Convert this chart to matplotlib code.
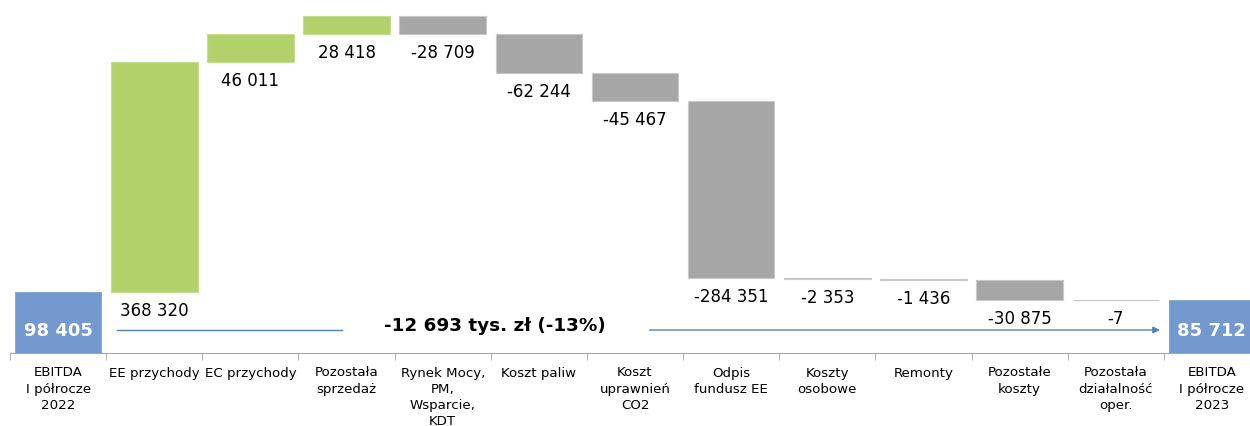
import matplotlib
matplotlib.use("Agg")
import matplotlib.pyplot as plt
import numpy as np

categories = ["EBITDA\nI półrocze\n2022", "EE przychody", "EC przychody", "Pozostała\nsprzedaż",
              "Rynek Mocy,\nPM,\nWsparcie,\nKDT", "Koszt paliw", "Koszt\nuprawnień\nCO2",
              "Odpis\nfundusz EE", "Koszty\nosobowe", "Remonty", "Pozostałe\nkoszty",
              "Pozostała\ndziałalność\noper.", "EBITDA\nI półrocze\n2023"]
start_value = 98405
changes = [368320, 46011, 28418, -28709, -62244, -45467, -284351, -2353, -1436, -30875, -7]
end_value = 85712
summary_text = "-12 693 tys. zł (-13%)"

GREEN = "#B3D16B"
GREY = "#A6A6A6"
BLUE = "#7399CE"
LINE = "#4F81BD"

def fmt(v):
    s = f"{abs(v):,}".replace(",", " ")
    return ("-" if v < 0 else "") + s

fig = plt.figure(figsize=(12.5, 4.27), dpi=100)
W, H = 1250, 427
ax = fig.add_axes([10 / W, 1 - 354 / H, 1250 / W, 354 / H])
ax.set_xlim(-0.5, 12.5)
ax.set_ylim(0, 568450)

n = len(categories)
width = 0.9

# start bar
ax.bar(0, start_value, width=width, color=BLUE, edgecolor=BLUE, linewidth=0.5)
ax.annotate(fmt(start_value), (0, 0), xytext=(0, 23), textcoords="offset pixels",
            ha="center", va="center", fontsize=13, fontweight="bold", color="white")

running = start_value
for i, c in enumerate(changes, start=1):
    if c >= 0:
        bottom, top = running, running + c
        col = GREEN
    else:
        bottom, top = running + c, running
        col = GREY
    ax.bar(i, top - bottom, bottom=bottom, width=width, color=col,
           edgecolor="#C8C8C8" if c < 0 else "#C5DD8E", linewidth=0.8)
    ax.annotate(fmt(c), (i, bottom), xytext=(0, -18), textcoords="offset pixels",
                ha="center", va="center", fontsize=12)
    running += c

ax.bar(n - 1, end_value, width=width, color=BLUE, edgecolor=BLUE, linewidth=0.5)
ax.annotate(fmt(end_value), (n - 1, 0), xytext=(0, 23), textcoords="offset pixels",
            ha="center", va="center", fontsize=13, fontweight="bold", color="white")

# summary arrow
yl = 36900
ax.plot([0.61, 2.95], [yl, yl], color=LINE, lw=1)
ax.annotate("", xy=(11.46, yl), xytext=(6.15, yl),
            arrowprops=dict(arrowstyle="-|>", color=LINE, lw=1, mutation_scale=10,
                            shrinkA=0, shrinkB=0))
ax.text(4.54, 45000, summary_text, ha="center", va="center", fontsize=13.2, fontweight="bold")

# axes styling
for s in ["top", "right", "left"]:
    ax.spines[s].set_visible(False)
ax.spines["bottom"].set_color("#A6A6A6")
ax.set_yticks([])
ax.set_xticks(range(n))
ax.set_xticklabels(categories, fontsize=9.6, linespacing=1.33, va="top")
ax.tick_params(axis="x", which="major", length=0, pad=9)
ax.set_xticks(np.arange(-0.5, n, 1.0), minor=True)
ax.tick_params(axis="x", which="minor", length=5, color="#A6A6A6", direction="out")

fig.savefig("out.png", dpi=100)
